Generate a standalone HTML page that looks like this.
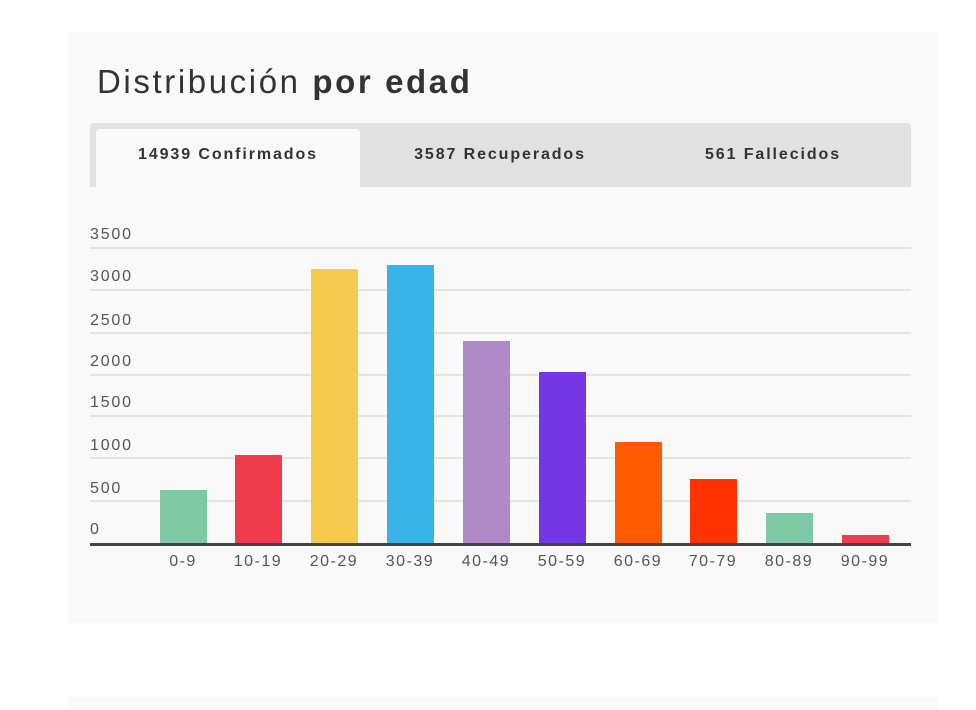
<!DOCTYPE html>
<html><head><style>
body{margin:0;background:#fff;width:976px;height:710px;overflow:hidden;font-family:"Liberation Sans",sans-serif;position:relative}
.card{position:absolute;left:68px;top:32px;width:870px;height:591px;background:#f9f9f9}
.card2{position:absolute;left:68px;top:697px;width:870px;height:13px;background:#f9f9f9}
h1{position:absolute;left:97px;top:63px;margin:0;font-size:33px;font-weight:normal;color:#333;letter-spacing:2.6px;white-space:nowrap}
h1 b{color:#333}
.tabs{position:absolute;left:90px;top:123px;width:821px;height:64px;background:#e1e1e1;border-radius:4px 4px 0 0}
.tab{position:absolute;top:0;height:64px;line-height:64px;font-size:16px;letter-spacing:1.9px;font-weight:bold;color:#333;text-align:center;white-space:nowrap}
.act{position:absolute;left:6px;top:6px;width:264px;height:58px;background:#f9f9f9;border-radius:4px 4px 0 0}
.yl{position:absolute;left:90px;font-size:16px;letter-spacing:1.8px;color:#555}
.g{position:absolute;left:90px;width:821px;height:2px;background:#e4e4e4}
.bar{position:absolute;width:47px}
.xl{position:absolute;top:553px;width:80px;text-align:center;font-size:16px;letter-spacing:1.5px;color:#555}
</style></head><body>
<div class="card"></div><div class="card2"></div>
<h1>Distribución <b>por edad</b></h1>
<div class="tabs"><div class="act"></div>
<div class="tab" style="left:6px;width:264px">14939 Confirmados</div>
<div class="tab" style="left:275px;width:270px">3587 Recuperados</div>
<div class="tab" style="left:545px;width:276px">561 Fallecidos</div></div>
<div class="g" style="top:247px"></div><div class="g" style="top:289px"></div><div class="g" style="top:332px"></div><div class="g" style="top:374px"></div><div class="g" style="top:415px"></div><div class="g" style="top:457px"></div><div class="g" style="top:500px"></div>
<div class="yl" style="top:226px">3500</div><div class="yl" style="top:268px">3000</div><div class="yl" style="top:312px">2500</div><div class="yl" style="top:353px">2000</div><div class="yl" style="top:394px">1500</div><div class="yl" style="top:437px">1000</div><div class="yl" style="top:480px">500</div><div class="yl" style="top:521px">0</div>
<div class="bar" style="left:160px;top:490px;height:54px;background:#7ec8a6"></div>
<div class="bar" style="left:235px;top:455px;height:89px;background:#ee3a4a"></div>
<div class="bar" style="left:311px;top:269px;height:275px;background:#f6ca4d"></div>
<div class="bar" style="left:387px;top:265px;height:279px;background:#38b4e9"></div>
<div class="bar" style="left:463px;top:341px;height:203px;background:#b08ac8"></div>
<div class="bar" style="left:539px;top:372px;height:172px;background:#7537e3"></div>
<div class="bar" style="left:615px;top:442px;height:102px;background:#ff5a00"></div>
<div class="bar" style="left:690px;top:479px;height:65px;background:#ff3300"></div>
<div class="bar" style="left:766px;top:513px;height:31px;background:#7ec8a6"></div>
<div class="bar" style="left:842px;top:535px;height:9px;background:#ee3a4a"></div>
<div style="position:absolute;left:90px;top:543px;width:821px;height:3px;background:#444"></div>
<div class="xl" style="left:143px">0-9</div><div class="xl" style="left:218px">10-19</div><div class="xl" style="left:294px">20-29</div><div class="xl" style="left:370px">30-39</div><div class="xl" style="left:446px">40-49</div><div class="xl" style="left:522px">50-59</div><div class="xl" style="left:598px">60-69</div><div class="xl" style="left:673px">70-79</div><div class="xl" style="left:749px">80-89</div><div class="xl" style="left:825px">90-99</div>
</body></html>
